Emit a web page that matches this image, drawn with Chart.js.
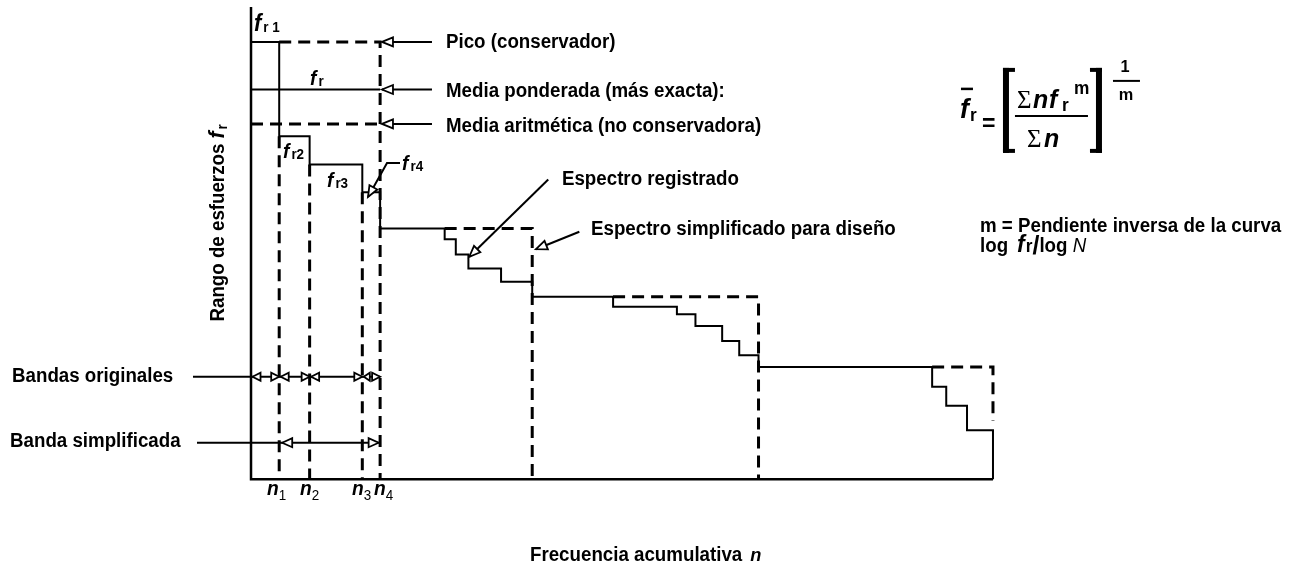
<!DOCTYPE html>
<html>
<head>
<meta charset="utf-8">
<script src="https://cdn.jsdelivr.net/npm/chart.js@4.4.1/dist/chart.umd.min.js"></script>
<style>
  body { margin: 0; background: #fff; }
  #wrap { width: 1292px; height: 571px; position: relative; }
</style>
</head>
<body>
<div id="wrap"><canvas id="chart"></canvas></div>
<script>
// ---- data (x = cumulative frequency n, y = stress range f_r, arbitrary units) ----
const bandEdges = [0, 38, 79, 150, 174];           // 0, n1, n2, n3, n4
const bandNames = ['n', 'n', 'n', 'n'];
const bandSubs = ['1', '2', '3', '4'];
const recordedX = [0, 38, 79, 150, 174, 261, 276, 293, 337, 379, 488, 574, 599, 635, 658, 684, 918, 937, 965, 1000];
const recordedY = [92.8, 72.8, 66.8, 60.9, 53.2, 50.9, 47.7, 44.7, 41.9, 38.7, 36.6, 35.0, 32.5, 29.3, 26.3, 23.8, 19.6, 15.6, 10.4, 0];
const designStart = [38, 261, 488, 918];
const designEnd = [174, 379, 684, 1000];
const designLevel = [92.8, 53.2, 38.7, 23.8];
const designFoot = [0, 0, 0, 12.4];
const weightedMean = 82.7;
const arithmeticMean = 75.4;
const originalBandY = 21.74;
const simplifiedBandY = 7.73;

// leader lines for the notes (data units), arrow head at the last point
const callouts = [
  [[243.9, 92.8], [176.5, 92.8]],
  [[243.9, weightedMean], [176.5, weightedMean]],
  [[243.9, arithmeticMean], [176.5, arithmeticMean]],
  [[200.8, 67.1], [183.3, 67.1], [157.7, 59.9]],
  [[400.6, 63.6], [294.2, 47.2]],
  [[442.5, 52.5], [384.1, 48.8]]
];

const notes = [
  { t: 'Pico (conservador)', x: 262.8, y: 91.45 },
  { t: 'Media ponderada (más exacta):', x: 262.8, y: 81.17 },
  { t: 'Media aritmética (no conservadora)', x: 262.8, y: 73.75 },
  { t: 'Espectro registrado', x: 419.1, y: 62.43 },
  { t: 'Espectro simplificado para diseño', x: 458.2, y: 51.82 },
  { t: 'Bandas originales', x: -322.1, y: 20.68 },
  { t: 'Banda simplificada', x: -324.8, y: 6.76 },
  { t: 'm = Pendiente inversa de la curva', x: 982.5, y: 52.46 }
];

// f_r labels on the steps
const stepLabels = [
  { sub: 'r 1', x: 4.0, y: 95.1, size: 23 },
  { sub: 'r', x: 79.5, y: 83.66, size: 20 },
  { sub: 'r2', x: 43.1, y: 68.16, size: 20 },
  { sub: 'r3', x: 102.4, y: 62.0, size: 20 },
  { sub: 'r4', x: 203.5, y: 65.6, size: 20 }
];
const nLabelX = [21.6, 66.0, 136.1, 165.7];
const nLabelY = -3.37;

const FONT = "'Liberation Sans', Arial, sans-serif";
const SQ = 0.96; // text looks a little condensed

function levelAfter(n) {
  return recordedY[recordedX.indexOf(n)];
}
function seg(pts) {
  return pts.map(p => ({ x: p[0], y: p[1] }));
}

const dash = [12, 7];
const datasets = [];
datasets.push({ data: seg([[0, 100.2], [0, 0], [1000, 0]]), borderWidth: 2.5 });
// 'before' in Chart.js draws the horizontal run first, then the drop
datasets.push({ data: recordedX.map((x, i) => ({ x: x, y: recordedY[i] })), stepped: 'before', borderWidth: 2 });
designStart.forEach((s, i) => {
  datasets.push({ data: seg([[s, designLevel[i]], [designEnd[i], designLevel[i]], [designEnd[i], designFoot[i]]]), borderDash: dash, borderWidth: 3 });
});
bandEdges.slice(1, 4).forEach(n => {
  datasets.push({ data: seg([[n, levelAfter(n)], [n, 0]]), borderDash: dash, borderWidth: 3 });
});
datasets.push({ data: seg([[0, weightedMean], [174, weightedMean]]), borderWidth: 2 });
datasets.push({ data: seg([[0, arithmeticMean], [174, arithmeticMean]]), borderDash: dash, borderWidth: 3 });
datasets.push({ data: seg([[-78.2, originalBandY], [bandEdges[4], originalBandY]]), borderWidth: 2 });
datasets.push({ data: seg([[-72.8, simplifiedBandY], [172, simplifiedBandY]]), borderWidth: 2 });
callouts.forEach(c => datasets.push({ data: seg(c), borderWidth: 2 }));

datasets.forEach(d => {
  d.borderColor = '#000';
  d.pointRadius = 0;
  d.showLine = true;
  d.fill = false;
  d.tension = 0;
  d.borderCapStyle = 'butt';
});

function txt(ctx, s, font, x, y, align) {
  ctx.font = font;
  const w = ctx.measureText(s).width * SQ;
  const x0 = align === 'center' ? x - w / 2 : x;
  ctx.save();
  ctx.translate(x0, y);
  ctx.scale(SQ, 1);
  ctx.fillText(s, 0, 0);
  ctx.restore();
  return w;
}

function run(ctx, parts, x, y, measureOnly) {
  let cx = x;
  parts.forEach(p => {
    cx += p.gap || 0;
    ctx.font = p.font;
    const w = ctx.measureText(p.t).width * SQ;
    if (!measureOnly) txt(ctx, p.t, p.font, cx, y + (p.dy || 0));
    cx += w;
  });
  return cx - x;
}

function head(ctx, tip, from, len, half) {
  const a = Math.atan2(tip.y - from.y, tip.x - from.x);
  const bx = tip.x - len * Math.cos(a), by = tip.y - len * Math.sin(a);
  const px = -Math.sin(a) * half, py = Math.cos(a) * half;
  ctx.beginPath();
  ctx.moveTo(tip.x, tip.y);
  ctx.lineTo(bx + px, by + py);
  ctx.lineTo(bx - px, by - py);
  ctx.closePath();
  ctx.fillStyle = '#fff';
  ctx.fill();
  ctx.lineWidth = 1.8;
  ctx.strokeStyle = '#000';
  ctx.stroke();
  ctx.fillStyle = '#000';
}

function line(ctx, x1, y1, x2, y2, w) {
  ctx.beginPath();
  ctx.moveTo(x1, y1);
  ctx.lineTo(x2, y2);
  ctx.lineWidth = w;
  ctx.stroke();
}

const notesPlugin = {
  id: 'notes',
  afterDatasetsDraw(chart) {
    const ctx = chart.ctx;
    const xs = chart.scales.x, ys = chart.scales.y;
    const P = (x, y) => ({ x: xs.getPixelForValue(x), y: ys.getPixelForValue(y) });
    ctx.save();
    ctx.fillStyle = '#000';
    ctx.strokeStyle = '#000';
    ctx.textBaseline = 'alphabetic';

    // arrow heads on the leader lines
    callouts.forEach(c => {
      const n = c.length;
      head(ctx, P(c[n - 1][0], c[n - 1][1]), P(c[n - 2][0], c[n - 2][1]), 11, 4.5);
    });

    // band arrows
    for (let i = 0; i < 4; i++) {
      const a = P(bandEdges[i], originalBandY), b = P(bandEdges[i + 1], originalBandY);
      const aa = { x: a.x + 1.5, y: a.y };
      head(ctx, aa, { x: aa.x + 10, y: a.y }, i === 3 ? 6 : 8, 4);
      head(ctx, b, { x: b.x - 10, y: b.y }, 8, 4);
    }
    {
      const a = P(bandEdges[1], simplifiedBandY), b = P(172, simplifiedBandY);
      const aa = { x: a.x + 3, y: a.y };
      head(ctx, aa, { x: aa.x + 10, y: a.y }, 10, 4.5);
      head(ctx, b, { x: b.x - 10, y: b.y }, 10, 4.5);
    }

    // plain notes
    notes.forEach(n => {
      const p = P(n.x, n.y);
      txt(ctx, n.t, 'bold 19.5px ' + FONT, p.x, p.y);
    });

    // f_r step labels
    stepLabels.forEach(s => {
      const p = P(s.x, s.y);
      run(ctx, [
        { t: 'f', font: 'bold italic ' + s.size + 'px ' + FONT },
        { t: s.sub, font: 'bold 14px ' + FONT, gap: 2, dy: 1 }
      ], p.x, p.y);
    });

    // n labels
    nLabelX.forEach((x, i) => {
      const p = P(x, nLabelY);
      run(ctx, [
        { t: bandNames[i], font: 'bold italic 20px ' + FONT },
        { t: bandSubs[i], font: '14px ' + FONT, gap: 0, dy: 5 }
      ], p.x, p.y);
    });

    // x axis title
    {
      const p = P(376.0, -17.37);
      run(ctx, [
        { t: 'Frecuencia acumulativa', font: 'bold 19.5px ' + FONT },
        { t: 'n', font: 'bold italic 19px ' + FONT, gap: 8 }
      ], p.x, p.y);
    }

    // y axis title (rotated)
    {
      const p = P(-45.8, 54.4);
      const parts = [
        { t: 'Rango de esfuerzos ', font: 'bold 19.5px ' + FONT },
        { t: 'f', font: 'bold italic 22px ' + FONT },
        { t: 'r', font: 'bold 14px ' + FONT, gap: 2, dy: 3 }
      ];
      ctx.save();
      ctx.translate(p.x, p.y);
      ctx.rotate(-Math.PI / 2);
      const w = run(ctx, parts, 0, 0, true);
      run(ctx, parts, -w / 2, 7);
      ctx.restore();
    }

    // second line of the slope note
    {
      const p = P(982.5, 48.21);
      run(ctx, [
        { t: 'log', font: 'bold 19.5px ' + FONT },
        { t: 'f', font: 'bold italic 24px ' + FONT, gap: 9 },
        { t: 'r', font: 'bold 18px ' + FONT, gap: 1 },
        { t: '/', font: 'bold 26px ' + FONT, dy: 2 },
        { t: 'log', font: 'bold 19.5px ' + FONT },
        { t: ' N', font: 'italic 19.5px ' + FONT }
      ], p.x, p.y);
    }

    // formula: fr = [ Σ n fr^m / Σ n ]^(1/m)
    {
      const o = P(955.5, 77.1);
      const ax = o.x, ay = o.y;
      txt(ctx, 'f', 'bold italic 28px ' + FONT, ax, ay + 2);
      line(ctx, ax + 1, ay - 27, ax + 13, ay - 27, 2.5);
      txt(ctx, 'r', 'bold 18px ' + FONT, ax + 10, ay + 5);
      txt(ctx, '=', 'bold 24px ' + FONT, ax + 22, ay + 15);
      // brackets
      ctx.lineCap = 'butt';
      line(ctx, ax + 46, ay - 48, ax + 46, ay + 37, 6);
      line(ctx, ax + 43, ay - 46, ax + 55, ay - 46, 4);
      line(ctx, ax + 43, ay + 35, ax + 55, ay + 35, 4);
      line(ctx, ax + 139, ay - 48, ax + 139, ay + 37, 6);
      line(ctx, ax + 130, ay - 46, ax + 142, ay - 46, 4);
      line(ctx, ax + 130, ay + 35, ax + 142, ay + 35, 4);
      // numerator
      txt(ctx, '\u03A3', '26px "Liberation Serif", serif', ax + 57, ay - 8);
      txt(ctx, 'n', 'bold italic 26px ' + FONT, ax + 73, ay - 8);
      txt(ctx, 'f', 'bold italic 26px ' + FONT, ax + 89, ay - 8);
      txt(ctx, 'r', 'bold 18px ' + FONT, ax + 102, ay - 5);
      txt(ctx, 'm', 'bold 18px ' + FONT, ax + 114, ay - 22);
      line(ctx, ax + 55, ay, ax + 128, ay, 2);
      // denominator
      txt(ctx, '\u03A3', '26px "Liberation Serif", serif', ax + 67, ay + 31);
      txt(ctx, 'n', 'bold italic 26px ' + FONT, ax + 84, ay + 31);
      // exponent 1/m
      txt(ctx, '1', 'bold 17px ' + FONT, ax + 165, ay - 44, 'center');
      line(ctx, ax + 153, ay - 35, ax + 180, ay - 35, 2);
      txt(ctx, 'm', 'bold 17px ' + FONT, ax + 166, ay - 16, 'center');
    }
    ctx.restore();
  }
};

new Chart(document.getElementById('chart'), {
  type: 'scatter',
  data: { datasets: datasets },
  options: {
    responsive: true,
    maintainAspectRatio: false,
    animation: false,
    events: [],
    layout: { padding: 0 },
    scales: {
      x: { type: 'linear', min: -338.3, max: 1403, display: false },
      y: { type: 'linear', min: -19.5, max: 101.7, display: false }
    },
    plugins: { legend: { display: false }, tooltip: { enabled: false } }
  },
  plugins: [notesPlugin]
});
</script>
</body>
</html>
